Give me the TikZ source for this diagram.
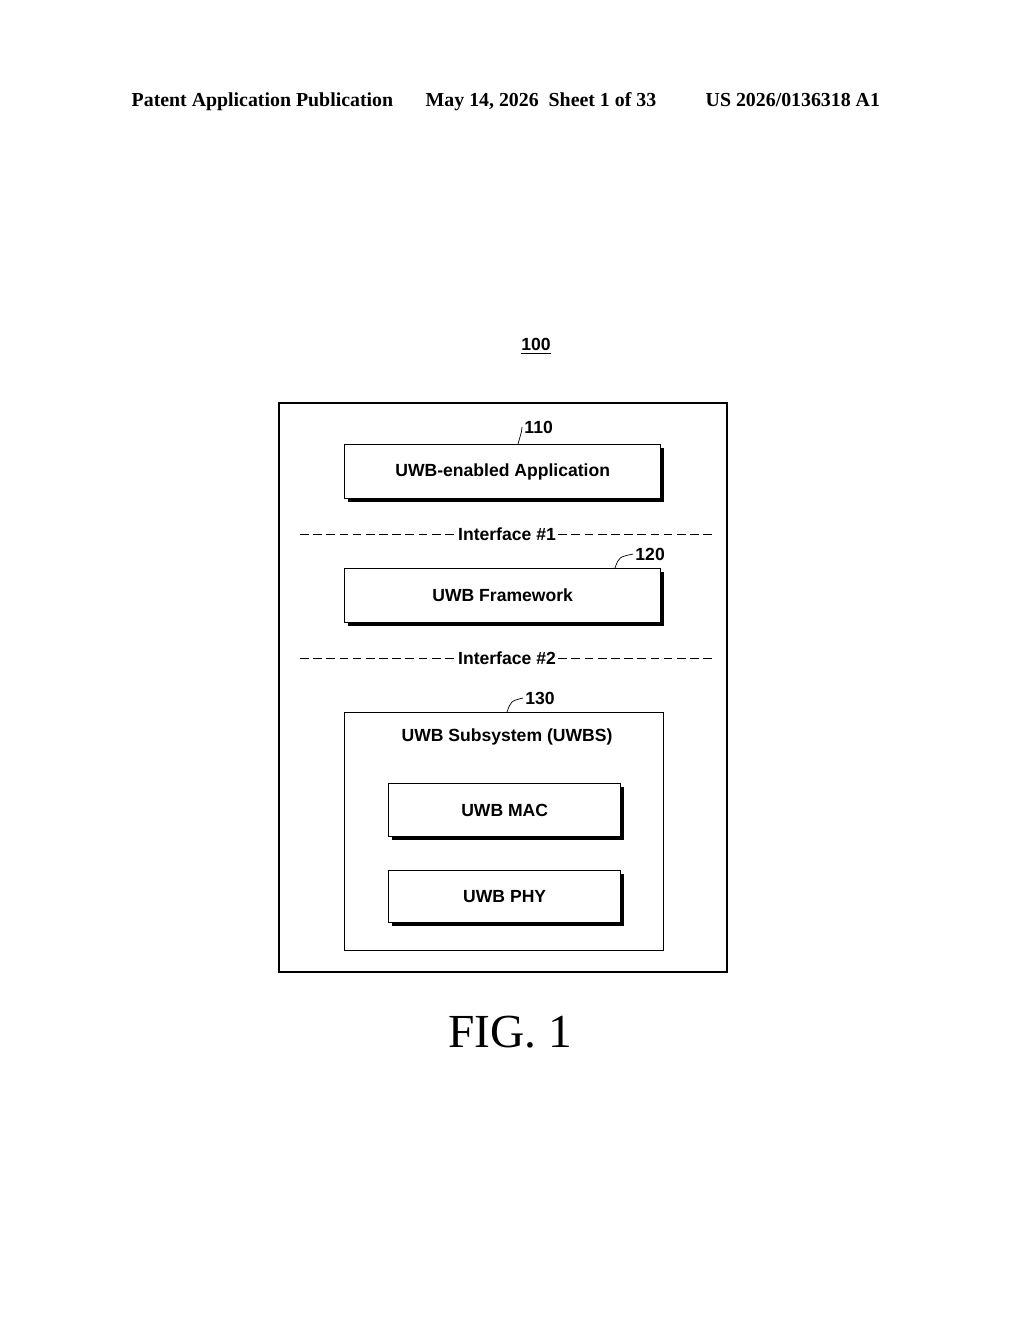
\documentclass[tikz,border=0pt]{standalone}
\usepackage{fontspec}
\setmainfont{Liberation Serif}
\setsansfont{Liberation Sans}
\begin{document}
\begin{tikzpicture}[x=0.02cm, y=-0.02cm, thick,
  layer/.style={draw, fill=white, minimum width=316*0.02cm, minimum height=54*0.02cm, font=\sffamily\bfseries\fontsize{10}{12}\selectfont},
  inner/.style={layer, minimum width=232*0.02cm, minimum height=53*0.02cm},
  shade/.style={fill=black},
  iface/.style={dashed, dash pattern=on 5pt off 2.5pt, thin},
  ref/.style={font=\sffamily\bfseries\fontsize{10}{12}\selectfont},
  head/.style={inner sep=0pt, font=\bfseries\fontsize{11.3}{13}\selectfont}]
\useasboundingbox (0,0) rectangle (1024,1320);

% header
\node[head, anchor=base west] (pub) at (131,106) {Patent Application Publication};
\node[head, anchor=base west] (date) at (425,106) {May 14, 2026\ \ Sheet 1 of 33};
\node[head, anchor=base west] (num) at (705,106) {US 2026/0136318 A1};

\node[ref] (r100) at (536,346) {\underline{100}};
\draw (279,403) rectangle (727,972);

% layers
\fill[shade] (348,448) rectangle (664,502);
\node[layer, anchor=north west] (app) at (344,444) {UWB-enabled Application};
\node[ref, anchor=west, inner sep=1pt] (r110) at (522,427) {110};
\draw[thin] (app.north -| 518,0) .. controls (522,430) .. (r110.west);

\node[ref, fill=white, inner sep=1pt] (if1) at (507,534) {Interface \#1};
\draw[iface] (300,534) -- (if1.west);
\draw[iface] (if1.east) -- (712,534);

\fill[shade] (348,572) rectangle (664,626);
\node[layer, anchor=north west] (fw) at (344,568) {UWB Framework};
\node[ref, anchor=west, inner sep=1pt] (r120) at (633,554) {120};
\draw[thin] (fw.north -| 615,0) .. controls (619,557) .. (r120.west);

\node[ref, fill=white, inner sep=1pt] (if2) at (507,658) {Interface \#2};
\draw[iface] (300,658) -- (if2.west);
\draw[iface] (if2.east) -- (712,658);

\node[draw, anchor=north west, minimum width=319*0.02cm, minimum height=238*0.02cm] (sub) at (344,712) {};
\node[ref] (subt) at (507,737) {UWB Subsystem (UWBS)};
\node[ref, anchor=west, inner sep=1pt] (r130) at (523,698) {130};
\draw[thin] (sub.north -| 507,0) .. controls (511,701) .. (r130.west);

\fill[shade] (392,787) rectangle (624,840);
\node[inner, anchor=north west] (mac) at (388,783) {UWB MAC};
\fill[shade] (392,874) rectangle (624,926);
\node[inner, anchor=north west, minimum height=52*0.02cm] (phy) at (388,870) {UWB PHY};

\node[font=\fontsize{27}{30}\selectfont] (fig) at (510,1032) {FIG. 1};
\end{tikzpicture}
\end{document}
